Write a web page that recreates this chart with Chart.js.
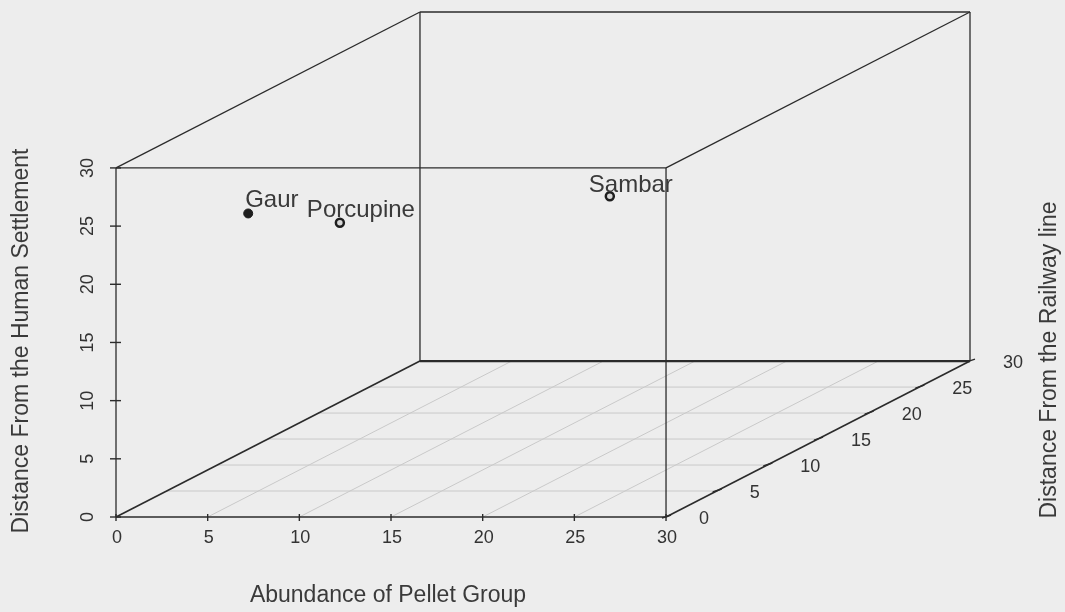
<!DOCTYPE html>
<html>
<head>
<meta charset="utf-8">
<script src="https://cdn.jsdelivr.net/npm/chart.js@4/dist/chart.umd.min.js"></script>
<style>
  html, body { margin: 0; padding: 0; background: #ededed; }
  #wrap { width: 1065px; height: 612px; }
</style>
</head>
<body>
<div id="wrap"><canvas id="chart" width="1065" height="612"></canvas></div>
<script>
// axis ranges and ticks
var xRange = [0, 30];          // Abundance of Pellet Group
var yRange = [0, 30];          // Distance From the Railway line (depth)
var zRange = [0, 30];          // Distance From the Human Settlement
var xTicks = [0, 5, 10, 15, 20, 25, 30];
var yTicks = [0, 5, 10, 15, 20, 25, 30];
var zTicks = [0, 5, 10, 15, 20, 25, 30];

// species points
var species = ['Gaur', 'Porcupine', 'Sambar'];
var abundance = [5, 10, 25];
var railDist = [4, 4, 3.5];
var settleDist = [24.3, 23.5, 26];

// oblique projection: full depth shifts right / up by this many scale units
var DEPTH_X = 16.58;
var DEPTH_Z = 13.4;

function proj(x, y, z) {
    var f = (y - yRange[0]) / (yRange[1] - yRange[0]);
    return { x: x + f * DEPTH_X, y: z + f * DEPTH_Z };
}

var INK = '#2b2b2b';
var GRID = '#c9c9c9';

function seg(a, b, color, width) {
    return {
        type: 'line',
        data: [proj(a[0], a[1], a[2]), proj(b[0], b[1], b[2])],
        borderColor: color,
        borderWidth: width,
        pointRadius: 0,
        fill: false,
        clip: false,
        order: 5
    };
}

var x0 = xRange[0], x1 = xRange[1], y0 = yRange[0], y1 = yRange[1], z0 = zRange[0], z1 = zRange[1];

var datasets = [];

// points on top
datasets.push({
    type: 'scatter',
    data: species.map(function (s, i) { return proj(abundance[i], railDist[i], settleDist[i]); }),
    backgroundColor: ['#1e1e1e', '#d8d8d8', '#d8d8d8'],
    borderColor: '#1e1e1e',
    borderWidth: [1, 2.5, 2.5],
    pointRadius: [4.5, 4, 4],
    clip: false,
    order: 0
});

// box edges
datasets.push(seg([x0, y0, z0], [x1, y0, z0], INK, 1.5));
datasets.push(seg([x0, y0, z0], [x0, y0, z1], INK, 1.3));
datasets.push(seg([x0, y0, z1], [x1, y0, z1], INK, 1.3));
datasets.push(seg([x1, y0, z0], [x1, y0, z1], INK, 1.3));
datasets.push(seg([x0, y1, z0], [x1, y1, z0], INK, 2.2));
datasets.push(seg([x0, y1, z0], [x0, y1, z1], INK, 1.3));
datasets.push(seg([x0, y1, z1], [x1, y1, z1], INK, 1.3));
datasets.push(seg([x1, y1, z0], [x1, y1, z1], INK, 1.3));
datasets.push(seg([x0, y0, z0], [x0, y1, z0], INK, 1.6));
datasets.push(seg([x1, y0, z0], [x1, y1, z0], INK, 1.6));
datasets.push(seg([x0, y0, z1], [x0, y1, z1], INK, 1.3));
datasets.push(seg([x1, y0, z1], [x1, y1, z1], INK, 1.3));

// floor grid
xTicks.slice(1, -1).forEach(function (t) {
    var d = seg([t, y0, z0], [t, y1, z0], GRID, 1);
    d.order = 9;
    datasets.push(d);
});
yTicks.slice(1, -1).forEach(function (t) {
    var d = seg([x0, t, z0], [x1, t, z0], GRID, 1);
    d.order = 9;
    datasets.push(d);
});

var axes3d = {
    id: 'axes3d',
    afterDatasetsDraw: function (chart, args, opts) {
        var ctx = chart.ctx;
        var sx = chart.scales.x, sy = chart.scales.y;
        function px(p) { return [sx.getPixelForValue(p.x), sy.getPixelForValue(p.y)]; }
        ctx.save();
        ctx.strokeStyle = INK;
        ctx.lineWidth = 1.4;
        ctx.fillStyle = '#333';
        ctx.font = '18px "Liberation Sans", Arial, sans-serif';

        // x ticks
        ctx.textAlign = 'center';
        ctx.textBaseline = 'middle';
        xTicks.forEach(function (t) {
            var p = px(proj(t, y0, z0));
            ctx.beginPath(); ctx.moveTo(p[0], p[1] - 3); ctx.lineTo(p[0], p[1] + 4); ctx.stroke();
            ctx.fillText(String(t), p[0] + 1, p[1] + 21);
        });

        // z ticks (rotated labels)
        zTicks.forEach(function (t) {
            var p = px(proj(x0, y0, t));
            ctx.beginPath(); ctx.moveTo(p[0] - 6, p[1]); ctx.lineTo(p[0] + 5, p[1]); ctx.stroke();
            ctx.save();
            ctx.translate(p[0] - 28, p[1]);
            ctx.rotate(-Math.PI / 2);
            ctx.fillText(String(t), 0, 0);
            ctx.restore();
        });

        // y ticks along the right floor edge
        ctx.textAlign = 'left';
        yTicks.forEach(function (t) {
            var p = px(proj(x1, t, z0));
            ctx.beginPath(); ctx.moveTo(p[0] - 4, p[1] + 1); ctx.lineTo(p[0] + 5, p[1] - 2); ctx.stroke();
            ctx.fillText(String(t), p[0] + 33, p[1] + 2);
        });

        // species labels
        ctx.font = '24px "Liberation Sans", Arial, sans-serif';
        ctx.fillStyle = '#3a3a3a';
        species.forEach(function (s, i) {
            var p = px(proj(abundance[i], railDist[i], settleDist[i]));
            var o = opts.labelOffsets[i];
            ctx.fillText(s, p[0] + o[0], p[1] + o[1]);
        });

        // axis titles
        ctx.font = '23px "Liberation Sans", Arial, sans-serif';
        ctx.textAlign = 'center';
        ctx.fillText('Abundance of Pellet Group', 388, 596);
        ctx.save();
        ctx.translate(22, 341);
        ctx.rotate(-Math.PI / 2);
        ctx.fillText('Distance From the Human Settlement', 0, 0);
        ctx.restore();
        ctx.save();
        ctx.translate(1050, 360);
        ctx.rotate(-Math.PI / 2);
        ctx.fillText('Distance From the Railway line', 0, 0);
        ctx.restore();
        ctx.restore();
    }
};

new Chart(document.getElementById('chart'), {
    type: 'scatter',
    data: { datasets: datasets },
    options: {
        responsive: false,
        animation: false,
        layout: { padding: { left: 116, right: 95, top: 12, bottom: 95 } },
        scales: {
            x: { type: 'linear', display: false, min: x0, max: x1 + DEPTH_X },
            y: { type: 'linear', display: false, min: z0, max: z1 + DEPTH_Z }
        },
        plugins: {
            legend: { display: false },
            tooltip: { enabled: false },
            axes3d: { labelOffsets: [[-3, -13], [-33, -12], [-21, -11]] }
        }
    },
    plugins: [axes3d]
});
</script>
</body>
</html>
